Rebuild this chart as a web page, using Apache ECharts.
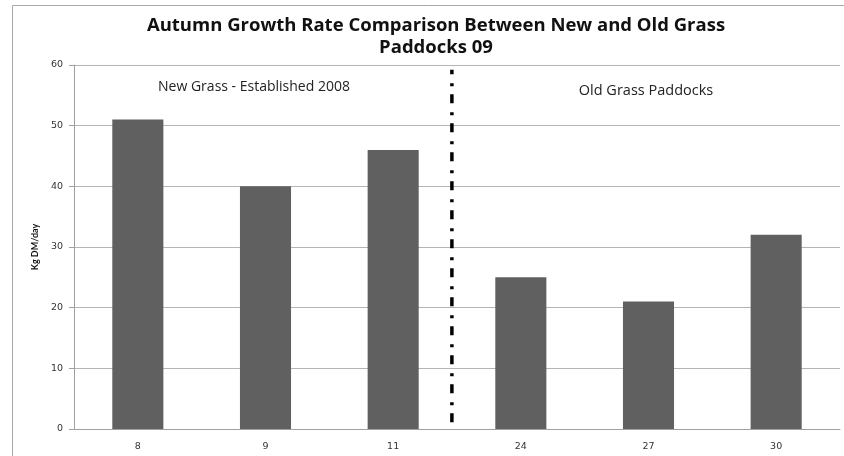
<!DOCTYPE html>
<html>
<head>
<meta charset="utf-8">
<script src="https://cdn.jsdelivr.net/npm/echarts@6/dist/echarts.min.js"></script>
<style>
  html, body { margin: 0; padding: 0; background: #fff; }
  #chart { width: 844px; height: 456px; }
</style>
</head>
<body>
<div id="chart"></div>
<script>
// paddock numbers and growth rates (Kg DM/day)
const paddocks = ['8', '9', '11', '24', '27', '30']
const growthRate = [51, 40, 46, 25, 21, 32]
// divider between new and old grass paddocks (position on a 0..6 category scale)
const dividerX = 2.96
const dividerY = [1.1, 59.2]

const chart = echarts.init(document.getElementById('chart'))

const options = {
  backgroundColor: '#fff',
  animation: false,
  title: [
    {
      text: 'Autumn Growth Rate Comparison Between New and Old Grass\nPaddocks 09',
      left: 431,
      top: 10,
      textAlign: 'center',
      textStyle: {
        fontFamily: 'Open Sans',
        fontWeight: 'bold',
        fontSize: 18.5,
        lineHeight: 22,
        color: '#111',
      },
    },
    {
      text: 'New Grass - Established 2008',
      left: 249,
      top: 75,
      textAlign: 'center',
      textStyle: { fontFamily: 'Open Sans', fontWeight: 'normal', fontSize: 14, color: '#222' },
    },
    {
      text: 'Old Grass Paddocks',
      left: 641,
      top: 78,
      textAlign: 'center',
      textStyle: { fontFamily: 'Open Sans', fontWeight: 'normal', fontSize: 14.5, color: '#222' },
    },
  ],
  graphic: [
    {
      // outer chart frame
      type: 'rect',
      shape: { x: 12.5, y: 5.5, width: 900, height: 500 },
      style: { fill: 'none', stroke: '#a8a8a8', lineWidth: 1 },
      z: -1,
    },
  ],
  grid: {
    left: 74,
    right: 4,
    top: 65,
    bottom: 27,
  },
  xAxis: [
    {
      type: 'category',
      data: paddocks,
      axisTick: { show: false },
      axisLine: { lineStyle: { color: '#a0a0a0' } },
      axisLabel: {
        color: '#333',
        fontFamily: 'DejaVu Sans',
        fontSize: 9.5,
        margin: 13,
      },
    },
    {
      type: 'value',
      min: 0,
      max: 6,
      show: false,
    },
  ],
  yAxis: {
    type: 'value',
    min: 0,
    max: 60,
    interval: 10,
    name: 'Kg DM/day',
    nameLocation: 'middle',
    nameGap: 30,
    nameTextStyle: {
      fontFamily: 'Lato',
      fontWeight: 'bold',
      fontSize: 9,
      color: '#111',
    },
    axisLine: { show: true, lineStyle: { color: '#a0a0a0' } },
    axisTick: { show: true, length: 5, lineStyle: { color: '#a0a0a0' } },
    axisLabel: {
      color: '#333',
      fontFamily: 'DejaVu Sans',
      fontSize: 9.5,
      margin: 11,
    },
    splitLine: { lineStyle: { color: '#b4b4b4' } },
  },
  series: [
    {
      type: 'bar',
      data: growthRate,
      barWidth: '40%',
      itemStyle: { color: '#606060' },
    },
    {
      type: 'line',
      xAxisIndex: 1,
      data: [[dividerX, dividerY[0]], [dividerX, dividerY[1]]],
      showSymbol: false,
      lineStyle: {
        color: '#000',
        width: 3.5,
        type: [9, 8, 3, 9],
      },
      z: 5,
    },
  ],
}

chart.setOption(options)
window.addEventListener('resize', () => {
  chart.resize()
})
</script>
</body>
</html>
